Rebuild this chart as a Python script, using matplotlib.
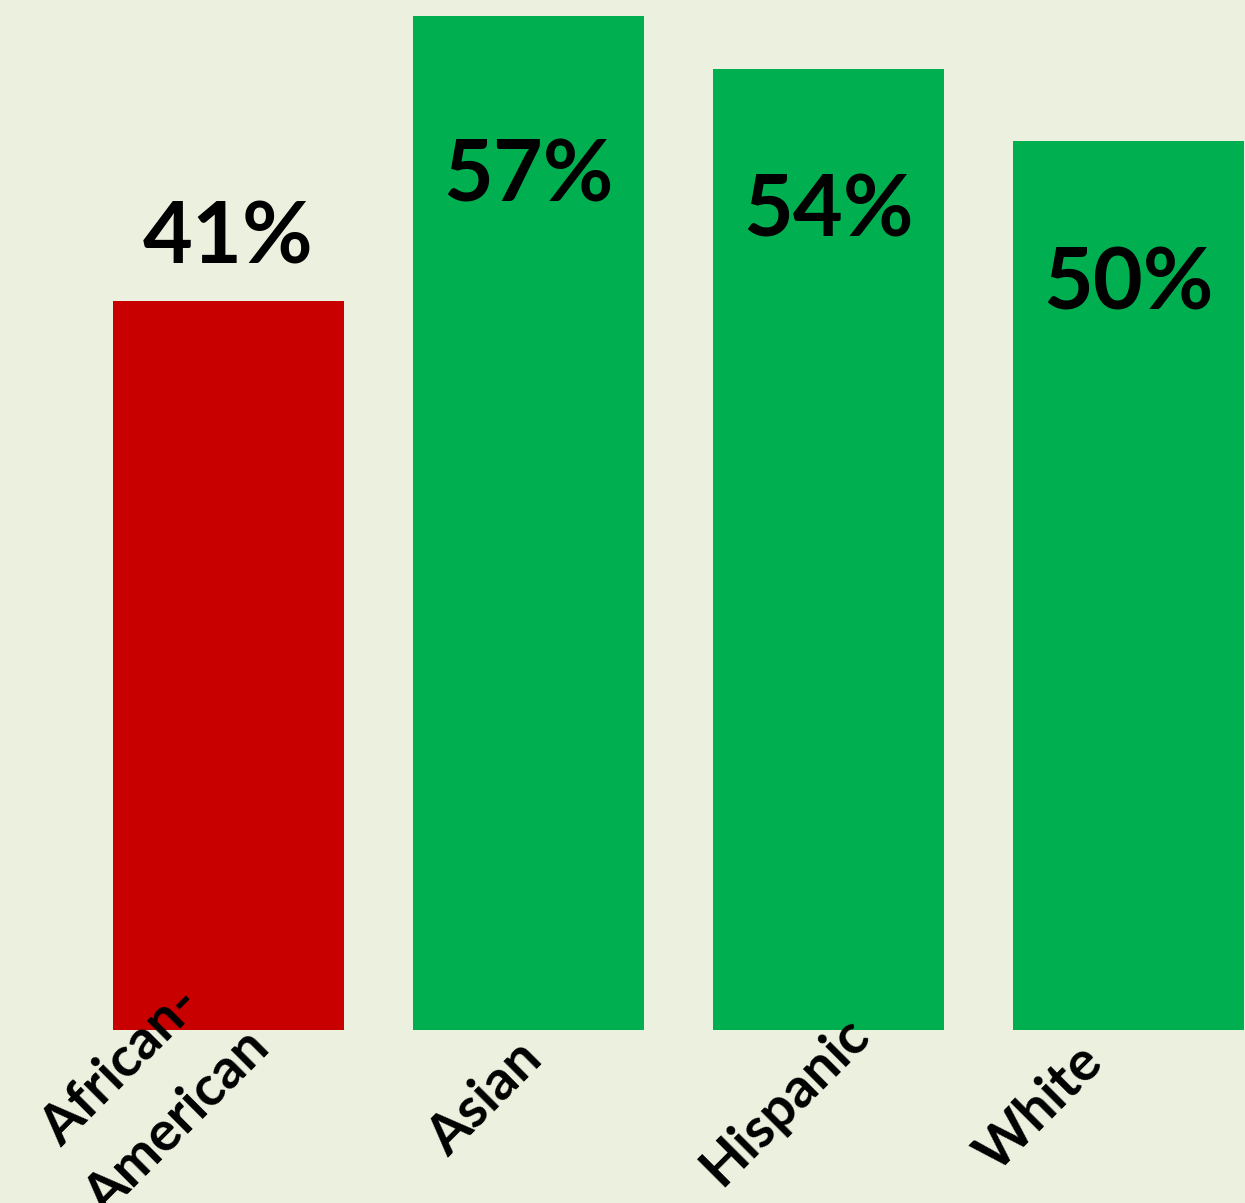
import matplotlib
matplotlib.use("Agg")
import matplotlib.pyplot as plt
import matplotlib.transforms as mtransforms
import numpy as np

# data
categories = ["African-\nAmerican", "Asian", "Hispanic", "White"]
values = [41, 57, 54, 50]
bar_colors = ["#C80000", "#00B050", "#00B050", "#00B050"]

# label tweaks (data units above/below bar top, pixel shifts for tick labels)
label_offsets = [2.1, -10.4, -9.4, -9.5]
tick_shifts = [(22, -1), (16.5, 32), (43, 7), (-23, 35)]

bg = "#EBF1DE"
plt.rcParams['font.family'] = ['Lato', 'DejaVu Sans']

fig = plt.figure(figsize=(12.45, 12.03), dpi=100)
fig.patch.set_facecolor(bg)
ax = fig.add_axes([0, 173 / 1203, 1, 1030 / 1203])
ax.set_facecolor(bg)

x = np.arange(len(values))
ax.bar(x, values, width=0.77, color=bar_colors)

for i, v in enumerate(values):
    ax.text(x[i], v + label_offsets[i], f"{v}%", ha='center', va='baseline',
            fontsize=62, fontweight='bold', color='black')

ax.set_xlim(-0.7617, 3.388)
ax.set_ylim(0, 57.9)
ax.set_yticks([])
ax.set_xticks(x, labels=categories, rotation=45, ha='right', va='baseline',
              rotation_mode='anchor', fontsize=40, fontweight='bold',
              multialignment='center', linespacing=1.75)
ax.tick_params(axis='x', length=0, pad=0)
for spine in ax.spines.values():
    spine.set_visible(False)

# nudge each rotated label to where it sits in the original
for lbl, (dx, dy) in zip(ax.get_xticklabels(), tick_shifts):
    off = mtransforms.ScaledTranslation(dx / 100, -dy / 100, fig.dpi_scale_trans)
    lbl.set_transform(lbl.get_transform() + off)

fig.savefig("out.png", dpi=100, facecolor=bg)
